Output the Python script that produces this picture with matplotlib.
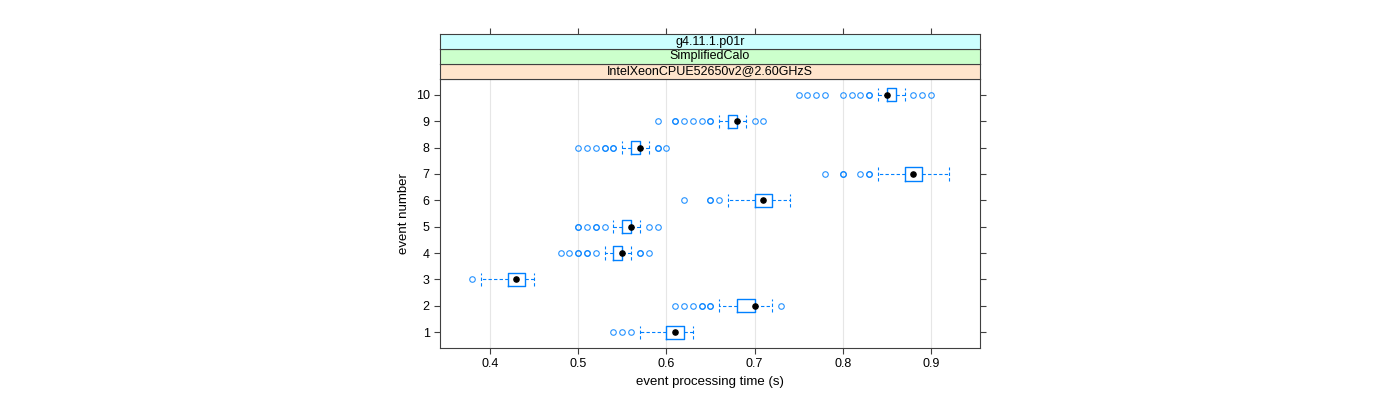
import matplotlib
matplotlib.use("Agg")
import matplotlib.pyplot as plt

plt.rcParams['font.family'] = ['Liberation Sans', 'DejaVu Sans']

# values (seconds), event 1..10
events = [1, 2, 3, 4, 5, 6, 7, 8, 9, 10]
q1 = [0.60, 0.68, 0.42, 0.54, 0.55, 0.70, 0.87, 0.56, 0.67, 0.85]
med = [0.61, 0.70, 0.43, 0.55, 0.56, 0.71, 0.88, 0.57, 0.68, 0.85]
q3 = [0.62, 0.70, 0.44, 0.55, 0.56, 0.72, 0.89, 0.57, 0.68, 0.86]
wlo = [0.57, 0.66, 0.39, 0.53, 0.54, 0.67, 0.84, 0.55, 0.66, 0.84]
whi = [0.63, 0.72, 0.45, 0.56, 0.57, 0.74, 0.92, 0.58, 0.69, 0.87]
outliers = [
    [0.54, 0.55, 0.56],
    [0.61, 0.62, 0.63, 0.64, 0.64, 0.65, 0.65, 0.73],
    [0.38],
    [0.48, 0.49, 0.50, 0.50, 0.51, 0.51, 0.52, 0.57, 0.57, 0.58],
    [0.50, 0.50, 0.51, 0.52, 0.52, 0.53, 0.58, 0.59],
    [0.62, 0.65, 0.65, 0.66],
    [0.78, 0.80, 0.80, 0.82, 0.83, 0.83],
    [0.50, 0.51, 0.52, 0.53, 0.53, 0.54, 0.54, 0.59, 0.59, 0.60],
    [0.59, 0.61, 0.61, 0.62, 0.63, 0.64, 0.65, 0.65, 0.70, 0.71],
    [0.75, 0.76, 0.77, 0.78, 0.80, 0.81, 0.82, 0.83, 0.83, 0.88, 0.89, 0.90],
]
strips = ['IntelXeonCPUE52650v2@2.60GHzS', 'SimplifiedCalo', 'g4.11.1.p01r']
strip_cols = ['#ffe5cc', '#ccffcc', '#ccffff']
xticks = [0.4, 0.5, 0.6, 0.7, 0.8, 0.9]

blue = '#0080ff'
frame = '#404040'

fig = plt.figure(figsize=(14, 4), dpi=100)
ax = fig.add_axes([440/1400, 1-348/400, 540/1400, (348-79)/400])

for x in xticks:
    ax.axvline(x, color='#e6e6e6', lw=0.8, zorder=0)

stats = []
for i in range(len(events)):
    stats.append(dict(med=med[i], q1=q1[i], q3=q3[i], whislo=wlo[i],
                      whishi=whi[i], fliers=outliers[i]))

ax.bxp(stats, positions=events, orientation='horizontal', widths=0.5,
       capwidths=0.5, patch_artist=False,
       boxprops=dict(color=blue, lw=1.0),
       whiskerprops=dict(color=blue, lw=0.8, ls=(0, (3, 2))),
       capprops=dict(color=blue, lw=0.8, ls=(0, (3, 2))),
       medianprops=dict(lw=0),
       flierprops=dict(marker='o', mfc='none', mec=blue, ms=4, mew=0.8, alpha=0.85))
ax.scatter(med, events, s=14, color='black', zorder=5)

ax.set_xlim(0.3433, 0.9556)
ax.set_ylim(0.4, 10.6)
ax.set_xticks(xticks)
ax.set_xticklabels([str(x) for x in xticks])
ax.set_yticks(events)
ax.set_yticklabels([str(e) for e in events])
ax.tick_params(axis='both', direction='out', length=4, color=frame, labelsize=9,
               right=True, labelright=False)
for s in ax.spines.values():
    s.set_color(frame)
ax.set_xlabel('event processing time (s)', fontsize=9.5)
ax.set_ylabel('event number', fontsize=9.5)

# strip panels above the plot
for k, (lab, col) in enumerate(zip(strips, strip_cols)):
    sax = fig.add_axes([440/1400, 1-(79-15*k)/400, 540/1400, 15/400])
    sax.set_facecolor(col)
    sax.set_xlim(ax.get_xlim())
    sax.set_yticks([])
    sax.text(0.5, 0.5, lab, ha='center', va='center', fontsize=9,
             transform=sax.transAxes)
    for s in sax.spines.values():
        s.set_color(frame)
    if k == len(strips) - 1:
        sax.set_xticks(xticks)
        sax.tick_params(axis='x', direction='out', length=4, color=frame,
                        bottom=False, top=True, labelbottom=False)
    else:
        sax.set_xticks([])

fig.savefig('out.png', dpi=100)
